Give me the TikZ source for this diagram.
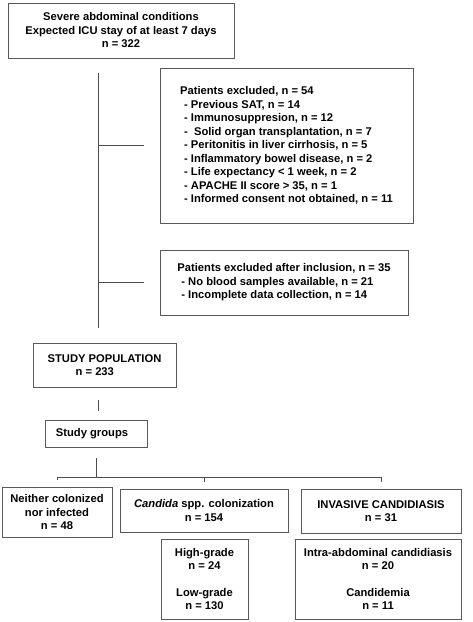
\documentclass[tikz,border=0pt]{standalone}
\usepackage{fontspec}
\setmainfont{Liberation Sans}
\begin{document}
\begin{tikzpicture}[x=1pt, y=-1pt,
   box/.style={draw=black!65, line width=0.8pt, inner sep=0pt, font=\bfseries\fontsize{11.2}{13.5}\selectfont},
   link/.style={draw=black!70, line width=0.8pt}]
   \useasboundingbox (0,0) rectangle (472,622);
   \node[box, minimum width=226, minimum height=55, align=center] (top) at (121,30.5) {Severe abdominal conditions\\Expected ICU stay of at least 7 days\\n = 322};
   \node[box, minimum width=253, minimum height=155, align=left] (excl) at (286.5,145.5) {Patients excluded, n = 54\\
      \hspace*{4pt}- Previous SAT, n = 14\\
      \hspace*{4pt}- Immunosuppresion, n = 12\\
      \hspace*{4pt}-\ \ Solid organ transplantation, n = 7\\
      \hspace*{4pt}- Peritonitis in liver cirrhosis, n = 5\\
      \hspace*{4pt}- Inflammatory bowel disease, n = 2\\
      \hspace*{4pt}- Life expectancy < 1 week, n = 2\\
      \hspace*{4pt}- APACHE II score > 35, n = 1\\
      \hspace*{4pt}- Informed consent not obtained, n = 11};
   \node[box, minimum width=248, minimum height=65, align=left] (after) at (284,282.5) {Patients excluded after inclusion, n = 35\\
      \hspace*{4pt}- No blood samples available, n = 21\\
      \hspace*{4pt}- Incomplete data collection, n = 14};
   \node[box, minimum width=143, minimum height=44, align=left] (pop) at (104.5,365) {STUDY POPULATION\\\hspace*{28pt}n = 233};
   \node[box, minimum width=102, minimum height=27] (groups) at (96,433.5) {Study groups\hspace*{8pt}};
   \node[box, minimum width=110, minimum height=50, align=center] (neither) at (57,512) {Neither colonized\\nor infected\\n = 48};
   \node[box, minimum width=168, minimum height=43, align=center] (candida) at (204,510.5) {\textit{Candida} spp. colonization\\n = 154};
   \node[box, minimum width=160, minimum height=44, align=center] (invasive) at (381,511) {INVASIVE CANDIDIASIS\\n = 31};
   \node[box, minimum width=87, minimum height=80, align=center] (grade) at (204.5,579) {High-grade\\n = 24\\[13pt]Low-grade\\n = 130};
   \node[box, minimum width=166, minimum height=80, align=center] (intra) at (378,579) {Intra-abdominal candidiasis\\n = 20\\[13pt]Candidemia\\n = 11};
   \coordinate (spine) at (98,0);
   \coordinate (bus) at (96,477);
   \draw[link, shorten <=15pt, shorten >=15pt] (top.south -| spine) -- (pop.north -| spine);
   \draw[link, shorten >=16pt] (excl.west -| spine) -- (excl.west);
   \draw[link, shorten >=16pt] (after.west -| spine) -- (after.west);
   \draw[link, shorten <=13pt, shorten >=9pt] (pop.south -| spine) -- (groups.north -| spine);
   \draw[link, shorten <=11pt] (groups.south) -- (bus);
   \draw[link] (neither.north |- bus) -- (invasive.north |- bus);
   \foreach \n in {neither,candida,invasive}
      \draw[link, shorten >=7pt] (\n.north |- bus) -- (\n.north);
\end{tikzpicture}
\end{document}
